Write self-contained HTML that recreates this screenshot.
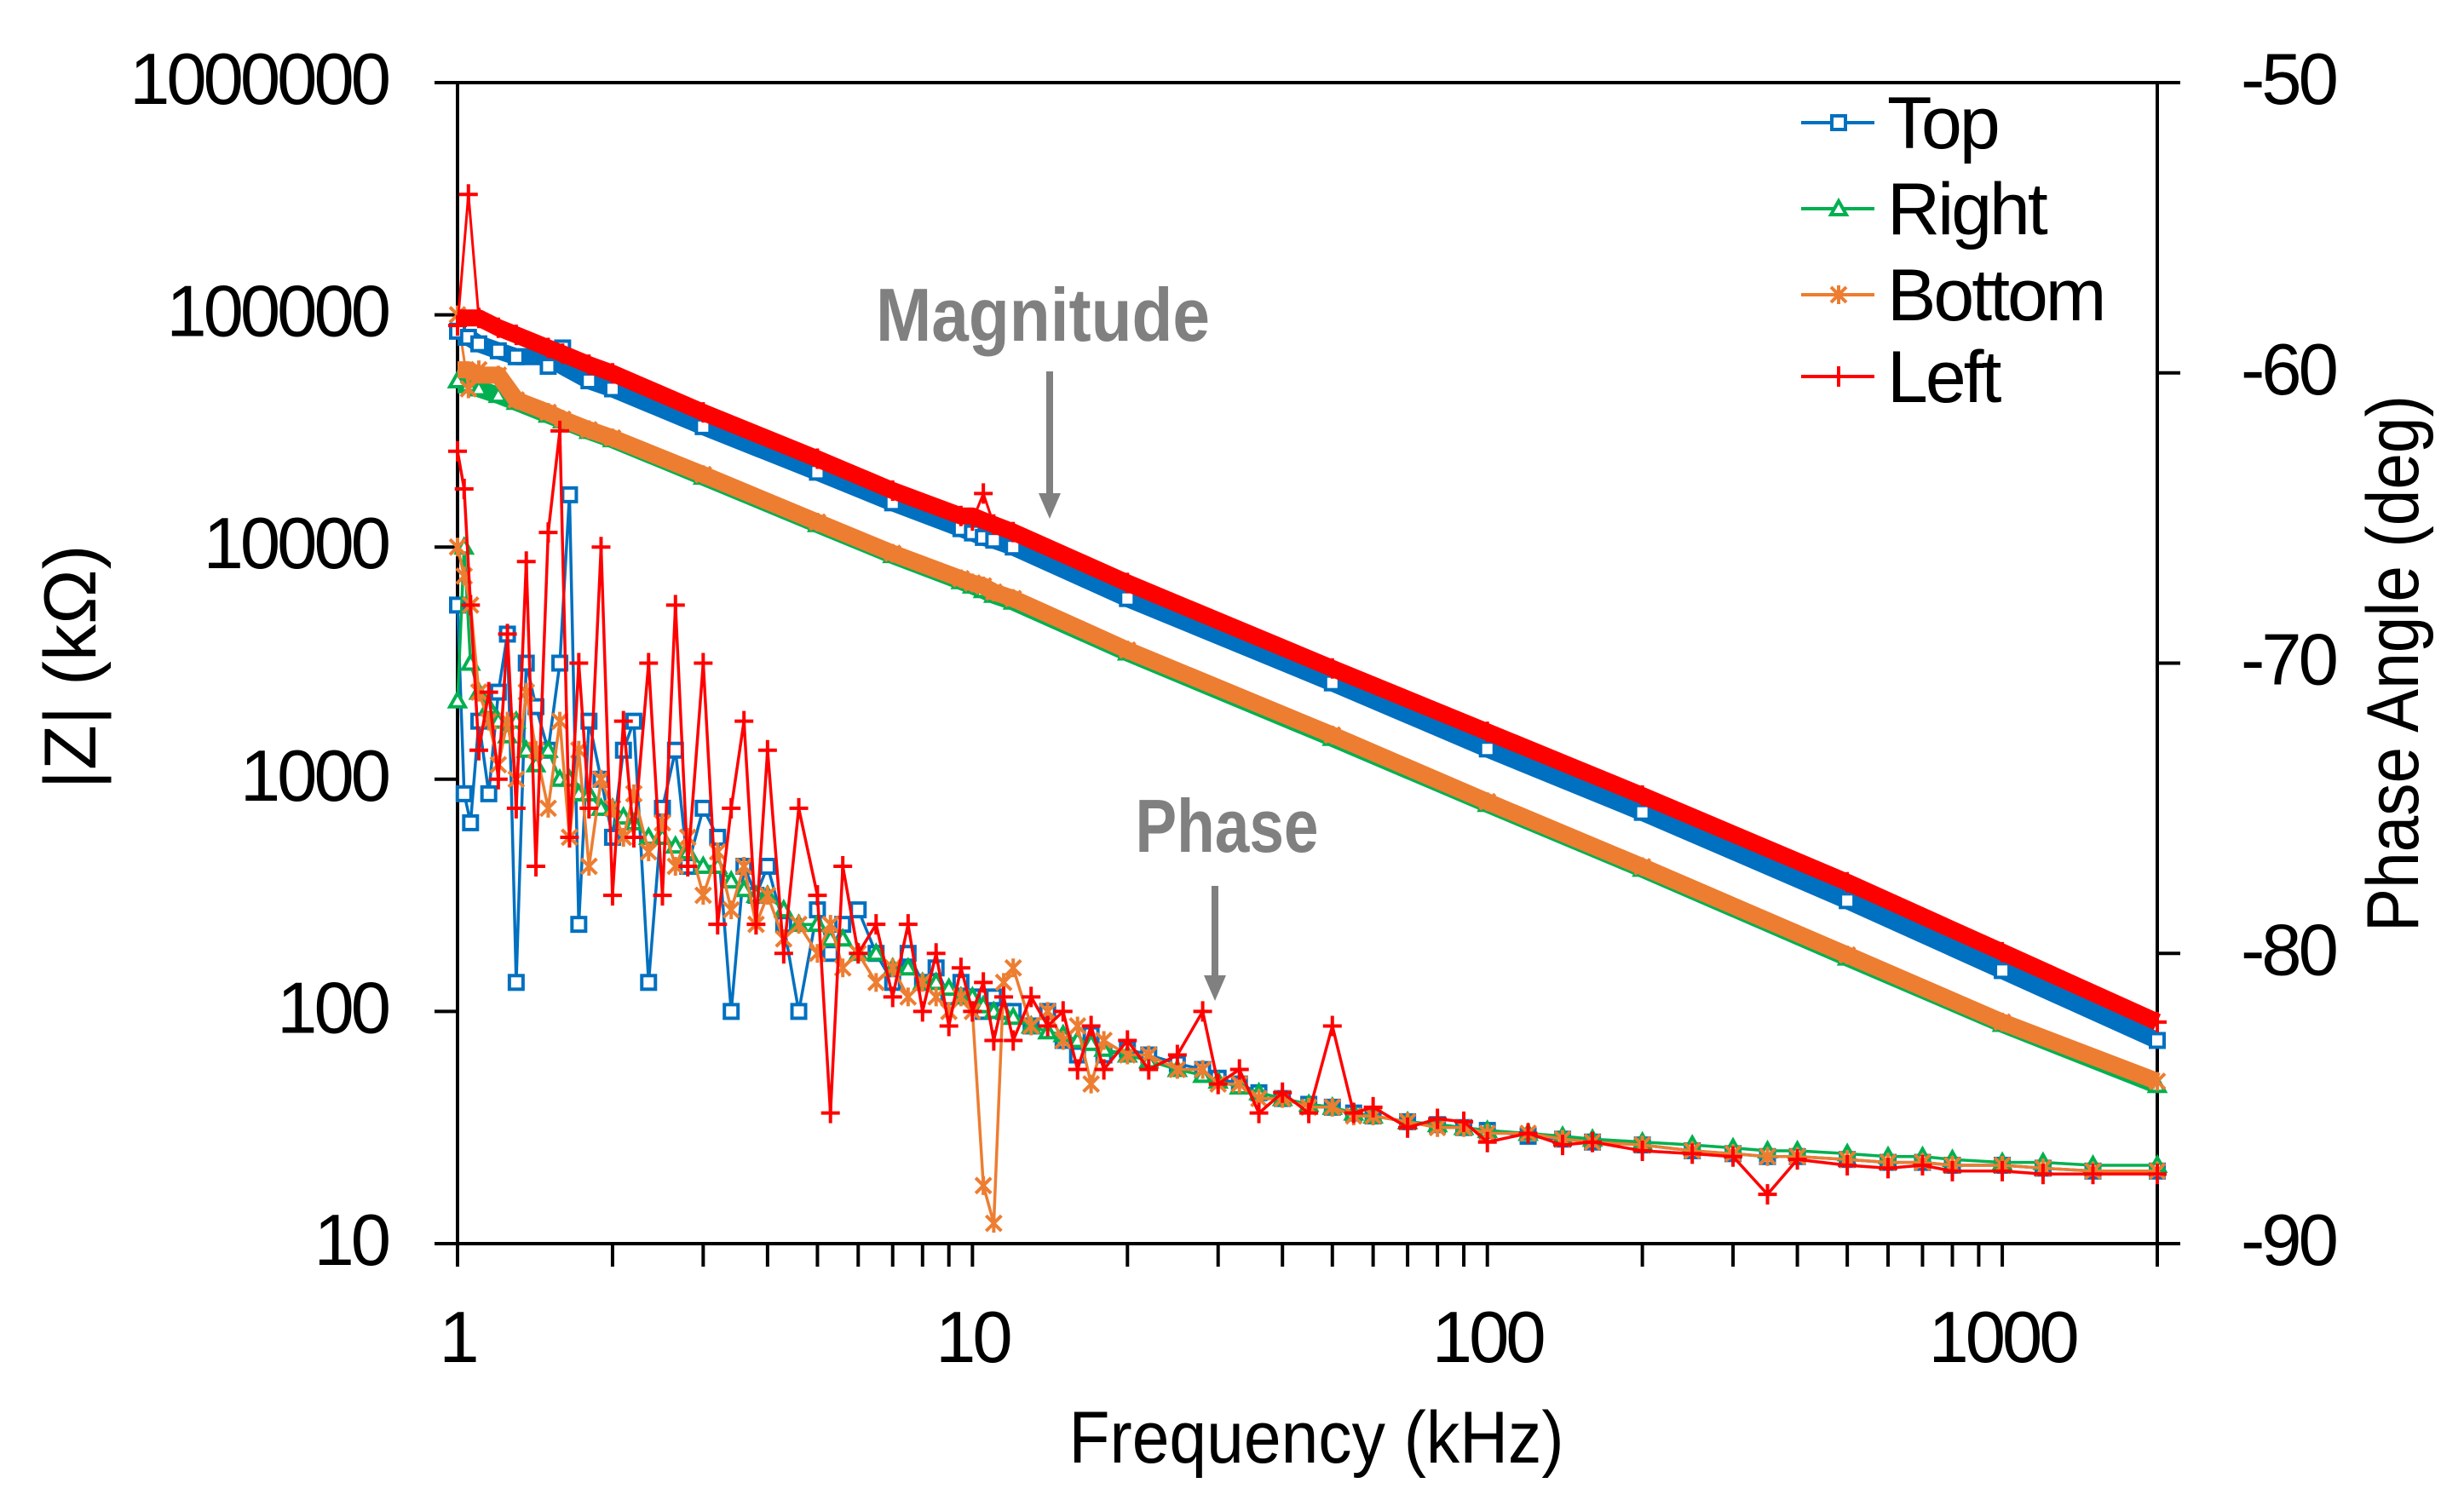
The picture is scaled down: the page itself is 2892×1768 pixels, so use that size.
<!DOCTYPE html>
<html><head><meta charset="utf-8"><style>
html,body{margin:0;padding:0;background:#fff;}
svg{display:block;font-family:"Liberation Sans",sans-serif;}
</style></head><body>
<svg id="chart" width="2892" height="1768" viewBox="0 0 2892 1768" xmlns="http://www.w3.org/2000/svg">
<g id="axes"></g>
<g id="series"></g>
<g id="labels"></g>
</svg>
<script>
const magFreq=[1,1.05,1.1,1.2,1.3,1.5,1.6,1.8,2,3,5,7,9.5,10,10.5,11,12,20,50,100,200,500,1000,2000];
const magTop=[85000,80000,75000,70000,66000,60000,72000,52000,48000,33000,21000,15500,12000,11500,11000,10700,10000,6000,2600,1350,720,300,150,75];
const magRight=[52000,50000,48000,45000,42000,37000,35000,31500,29000,20000,12500,9200,7100,6800,6500,6200,5800,3500,1500,780,410,170,88,48];
const magBottom=[100000,48000,58000,55000,43000,38000,35500,32000,29500,20500,12800,9400,7300,7000,6800,6400,6000,3600,1550,800,420,175,90,50];
const magLeft=[90000,330000,97000,88000,82000,72000,68000,61000,56000,38000,24000,17500,13600,13000,17000,12500,11600,7000,3000,1600,850,360,180,90];
const phaseFreq=[1,1.03,1.06,1.1,1.15,1.2,1.25,1.3,1.36,1.42,1.5,1.58,1.65,1.72,1.8,1.9,2,2.1,2.2,2.35,2.5,2.65,2.8,3,3.2,3.4,3.6,3.8,4,4.3,4.6,5,5.3,5.6,6,6.5,7,7.5,8,8.5,9,9.5,10,10.5,11,11.5,12,13,14,15,16,17,18,20,22,25,28,30,33,36,40,45,50,55,60,70,80,90,100,120,140,160,200,250,300,350,400,500,600,700,800,1000,1200,1500,2000];
const phTop=[-68,-74.5,-75.5,-72,-74.5,-71,-69,-81,-70,-71.5,-73,-70,-64.2,-79,-72,-74,-76,-73,-72,-81,-75,-73,-77,-75,-76,-82,-77,-78,-77,-79,-82,-78.5,-80,-79,-78.5,-80,-81,-80,-81,-80.5,-81.5,-81,-81.5,-82,-81.5,-82,-82,-82.5,-82,-83,-83.5,-82.8,-83.5,-83.3,-83.5,-83.8,-84,-84.3,-84.5,-84.8,-85,-85.2,-85.3,-85.5,-85.6,-85.8,-85.9,-86,-86.1,-86.3,-86.4,-86.5,-86.6,-86.8,-86.9,-87,-87,-87.1,-87.2,-87.2,-87.3,-87.3,-87.4,-87.5,-87.5];
const phRight=[-71.3,-66,-70,-71,-71.5,-72,-72.5,-72,-73,-73.5,-73,-74,-74,-74.5,-74.5,-75,-75,-75.3,-75.5,-76,-76,-76.3,-76.5,-77,-77,-77.5,-77.8,-78,-78,-78.5,-79,-79,-79.5,-79.5,-80,-80,-80.5,-80.5,-81,-81,-81.2,-81.5,-81.5,-81.8,-82,-82,-82.2,-82.5,-82.7,-82.8,-83,-83.1,-83.3,-83.5,-83.7,-84,-84.2,-84.4,-84.6,-84.8,-85,-85.2,-85.3,-85.5,-85.6,-85.8,-85.9,-86,-86.1,-86.2,-86.3,-86.4,-86.5,-86.6,-86.7,-86.8,-86.8,-86.9,-87,-87,-87.1,-87.2,-87.2,-87.3,-87.3];
const phBottom=[-66,-67,-68,-71,-72,-73.5,-72,-74,-71,-73,-75,-72,-76,-73,-77,-74,-75,-76,-74.5,-76.5,-75.5,-77,-76,-78,-76.5,-78.5,-77,-79,-78,-79.5,-79,-80,-79,-80.5,-80,-81,-80.5,-81.5,-81,-81.5,-82,-81.5,-82,-88,-89.3,-81,-80.5,-82.5,-82,-83,-82.5,-84.5,-83,-83.5,-83.5,-84,-84,-84.5,-84.5,-85,-85,-85.3,-85.3,-85.6,-85.6,-85.8,-86,-86,-86.2,-86.2,-86.4,-86.5,-86.6,-86.8,-86.9,-87,-87,-87.1,-87.2,-87.2,-87.3,-87.3,-87.4,-87.5,-87.5];
const phLeft=[-62.7,-64,-68,-73,-71,-74,-69,-75,-66.5,-77,-65.5,-62,-76,-70,-75,-66,-78,-72,-76,-70,-78,-68,-77,-70,-79,-75,-72,-79,-73,-80,-75,-78,-85.5,-77,-80,-79,-81.5,-79,-82,-80,-82.5,-80.5,-82,-81,-83,-81.5,-83,-81.5,-82.5,-82,-84,-82.5,-84,-83,-84,-83.5,-82,-84.5,-84,-85.5,-84.8,-85.5,-82.5,-85.5,-85.3,-86,-85.7,-85.8,-86.5,-86.2,-86.6,-86.5,-86.8,-86.9,-87,-88.3,-87.1,-87.3,-87.4,-87.3,-87.5,-87.5,-87.6,-87.6,-87.6];
const xTicks=["1","10","100","1000"];
const yTicks=["10","100","1000","10000","100000","1000000"];
const y2Ticks=["-50","-60","-70","-80","-90"];

const NS="http://www.w3.org/2000/svg";
const L=537,R=2532,T=97,B=1460;
const xMin=0,xMax=Math.log10(2000);
function X(f){return L+(Math.log10(f)-xMin)/(xMax-xMin)*(R-L);}
function Y(v){return B-(Math.log10(v)-1)/5*(B-T);}
function Y2(d){return B-(d+90)/40*(B-T);}
function mk(tag,attrs,parent){const e=document.createElementNS(NS,tag);for(const k in attrs)e.setAttribute(k,attrs[k]);parent.appendChild(e);return e;}
function m3(a,b,c){return [a,b,c].sort((p,q)=>p-q)[1];}
function med3(arr){const n=arr.length;return arr.map((v,i)=>{
 if(i===0)return m3(arr[0],arr[1],arr[2]);
 if(i===n-1)return v;
 return m3(arr[i-1],v,arr[i+1]);});}
const axes=document.getElementById('axes'),ser=document.getElementById('series'),lab=document.getElementById('labels');

let e;
e=mk('line',{x1:L,y1:T,x2:L,y2:B,stroke:'#000','stroke-width':4},axes);

e=mk('line',{x1:R,y1:T,x2:R,y2:B,stroke:'#000','stroke-width':4},axes);

e=mk('line',{x1:L,y1:B,x2:R,y2:B,stroke:'#000','stroke-width':4},axes);

e=mk('line',{x1:L,y1:T,x2:R,y2:T,stroke:'#000','stroke-width':4},axes);

for(let d=0;d<=3;d++){for(let m=1;m<=9;m++){const f=m*Math.pow(10,d);if(f>2000)break;
 e=mk('line',{x1:X(f),y1:B,x2:X(f),y2:B+27,stroke:'#000','stroke-width':4},axes);
 }}
e=mk('line',{x1:R,y1:B,x2:R,y2:B+27,stroke:'#000','stroke-width':4},axes);

xTicks.forEach(t=>{e=mk('text',{x:X(+t),y:1599,'font-size':85,'text-anchor':'middle','letter-spacing':-4},lab);e.textContent=t;
 });
yTicks.forEach(t=>{const y=Y(+t);
 e=mk('line',{x1:L-27,y1:y,x2:L,y2:y,stroke:'#000','stroke-width':4},axes);
 
 e=mk('text',{x:455,y:y+25,'font-size':85,'text-anchor':'end','letter-spacing':-4},lab);e.textContent=t;
 });
y2Ticks.forEach(t=>{const y=Y2(+t);
 e=mk('line',{x1:R,y1:y,x2:R+27,y2:y,stroke:'#000','stroke-width':4},axes);
 
 e=mk('text',{x:2630,y:y+25,'font-size':85,'letter-spacing':-4},lab);e.textContent=t;
 });

const cols={top:'#0070C0',right:'#00B050',bottom:'#ED7D31',left:'#FF0000'};
function marker(kind,x,y,c,g){
 if(kind==='top'){mk('rect',{x:x-8,y:y-8,width:16,height:16,fill:'#fff',stroke:c,'stroke-width':4},g);}
 else if(kind==='right'){mk('path',{d:`M${x},${y-9}L${x+9},${y+7}L${x-9},${y+7}Z`,fill:'#fff',stroke:c,'stroke-width':4},g);}
 else if(kind==='bottom'){mk('path',{d:`M${x-9},${y-9}L${x+9},${y+9}M${x+9},${y-9}L${x-9},${y+9}M${x},${y-11}L${x},${y+11}`,stroke:c,'stroke-width':4},g);}
 else {mk('path',{d:`M${x-11},${y}L${x+11},${y}M${x},${y-12}L${x},${y+12}`,stroke:c,'stroke-width':4},g);}
}
const mags=[['right',magRight],['bottom',magBottom],['top',magTop],['left',magLeft]];
mags.forEach(([k,arr])=>{
 const g=mk('g',{},ser);
 
 const sm=med3(arr);
 const band=magFreq.map((f,i)=>X(f).toFixed(1)+','+Y(sm[i]).toFixed(1)).join(' ');
 const pts=magFreq.map((f,i)=>X(f).toFixed(1)+','+Y(arr[i]).toFixed(1)).join(' ');
 mk('polyline',{points:band,fill:'none',stroke:cols[k],'stroke-width':20,'stroke-linejoin':'round'},g);
 mk('polyline',{points:pts,fill:'none',stroke:cols[k],'stroke-width':3},g);
 magFreq.forEach((f,i)=>marker(k,X(f),Y(arr[i]),cols[k],g));
});
const phs=[['top',phTop],['right',phRight],['bottom',phBottom],['left',phLeft]];
phs.forEach(([k,arr])=>{
 const g=mk('g',{},ser);
 
 const pts=phaseFreq.map((f,i)=>X(f).toFixed(1)+','+Y2(arr[i]).toFixed(1)).join(' ');
 mk('polyline',{points:pts,fill:'none',stroke:cols[k],'stroke-width':3.5},g);
 phaseFreq.forEach((f,i)=>marker(k,X(f),Y2(arr[i]),cols[k],g));
});

const leg=[['top','Top',144],['right','Right',245],['bottom','Bottom',346],['left','Left',442]];
leg.forEach(([k,t,y])=>{
 const g=mk('g',{},lab);
 
 mk('line',{x1:2114,y1:y,x2:2200,y2:y,stroke:cols[k],'stroke-width':4},g);
 marker(k,2158,y,cols[k],g);
 const tx=mk('text',{x:2215,y:y+30,'font-size':86,'letter-spacing':-3},g);tx.textContent=t;
});

function annot(name,text,cx,base,ax,y1,y2,len){
 const g=mk('g',{},lab);
 
 const t=mk('text',{x:cx,y:base,'font-size':88,'font-weight':'bold',fill:'#808080','text-anchor':'middle',textLength:len,lengthAdjust:'spacingAndGlyphs'},g);t.textContent=text;
 mk('line',{x1:ax,y1:y1,x2:ax,y2:y2-26,stroke:'#808080','stroke-width':8},g);
 mk('path',{d:`M${ax-13},${y2-30}L${ax+13},${y2-30}L${ax},${y2}Z`,fill:'#808080'},g);
}
annot('magnitude-annotation','Magnitude',1224,400,1232,436,609,392);
annot('phase-annotation','Phase',1440,1000,1426,1040,1175,215);

e=mk('text',{x:1545,y:1717,'font-size':86,'text-anchor':'middle',textLength:581,lengthAdjust:'spacingAndGlyphs'},lab);e.textContent='Frequency (kHz)';

e=mk('text',{x:0,y:0,'font-size':86,'text-anchor':'middle',transform:'translate(112,783) rotate(-90)',textLength:287,lengthAdjust:'spacingAndGlyphs'},lab);e.textContent='|Z|  (kΩ)';

e=mk('text',{x:0,y:0,'font-size':86,'text-anchor':'middle',transform:'translate(2838,779) rotate(-90)',textLength:630,lengthAdjust:'spacingAndGlyphs'},lab);e.textContent='Phase Angle (deg)';

</script>
</body></html>
